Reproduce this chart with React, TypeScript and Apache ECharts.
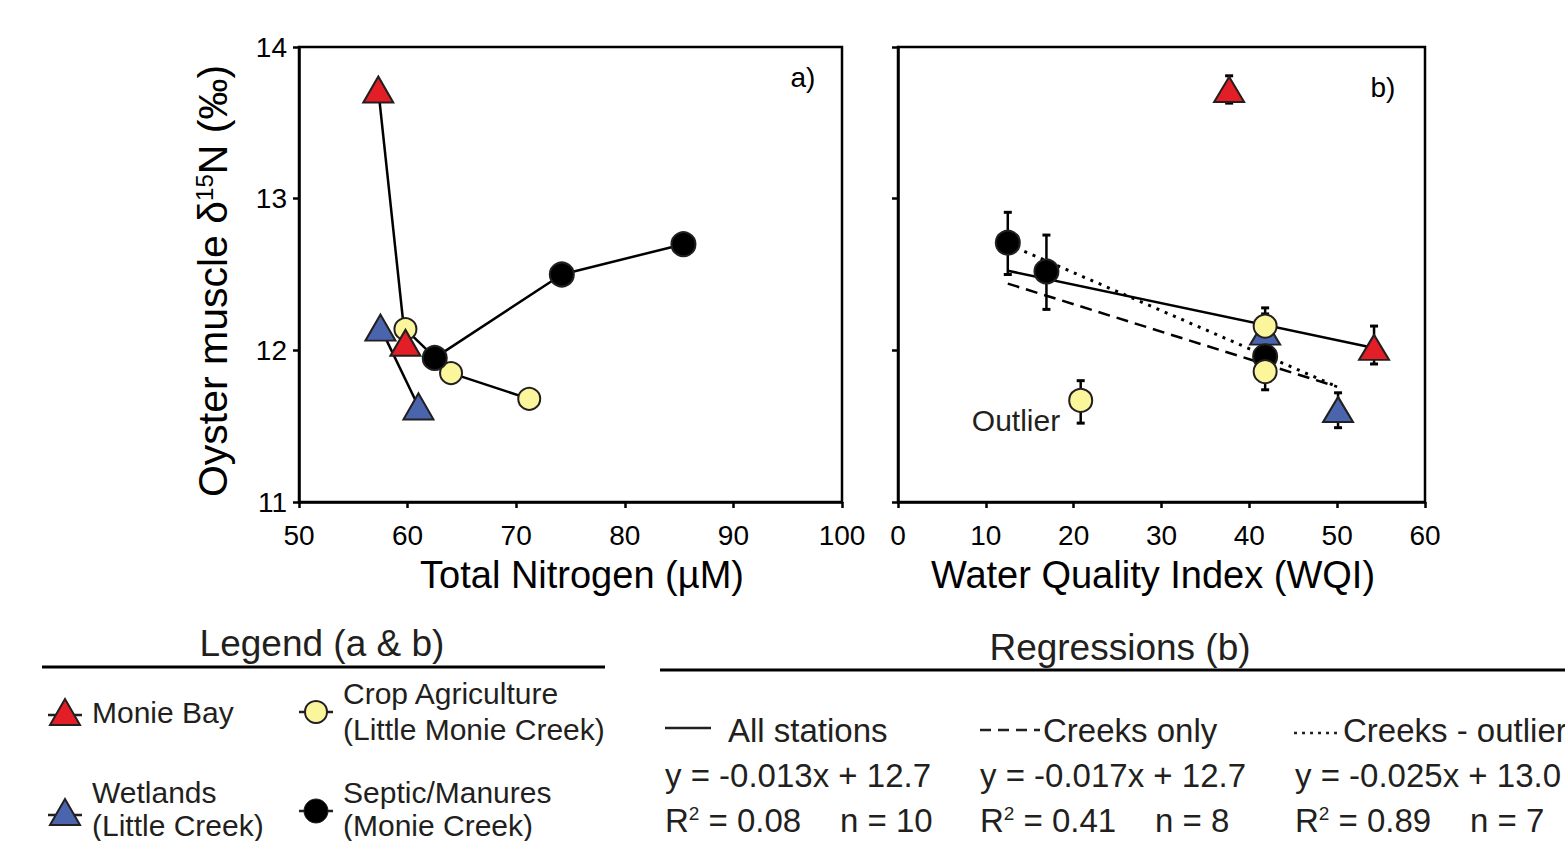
import React, { useEffect, useRef } from "react";
import * as echarts from "echarts";

const FONT = "'Liberation Sans', Arial, Helvetica, sans-serif";

// ---- Panel a: Total Nitrogen (µM) vs oyster muscle δ15N ----
const tnMonieBay = [
  [57.3, 13.72],
  [59.8, 12.05],
];
const tnWetlands = [
  [57.5, 12.15],
  [61.0, 11.63],
];
const tnCrop = [
  [59.8, 12.14],
  [64.0, 11.85],
  [71.2, 11.68],
];
const tnSeptic = [
  [62.5, 11.95],
  [74.2, 12.5],
  [85.4, 12.7],
];

// ---- Panel b: WQI vs δ15N  [wqi, mean, low, high] ----
const wqiMonieBay = [
  [37.7, 13.72, 13.63, 13.81],
  [54.2, 12.02, 11.91, 12.16],
];
const wqiWetlands = [
  [41.8, 12.12, 12.0, 12.24],
  [50.1, 11.61, 11.49, 11.72],
];
const wqiSeptic = [
  [12.5, 12.71, 12.5, 12.91],
  [16.9, 12.52, 12.27, 12.76],
  [41.8, 11.96, 11.85, 12.07],
];
const wqiCrop = [
  [41.8, 12.16, 12.04, 12.28],
  [41.8, 11.86, 11.74, 11.98],
  [20.8, 11.67, 11.52, 11.8],
];

// Regression lines (endpoints)
const regAllStations = [
  [12.5, 12.525],
  [54.2, 12.015],
];
const regCreeksOnly = [
  [12.5, 12.44],
  [50.0, 11.76],
];
const regCreeksNoOutlier = [
  [12.5, 12.7],
  [50.0, 11.76],
];

const xTicksA = { min: 50, max: 100, interval: 10 };
const xTicksB = { min: 0, max: 60, interval: 10 };
const yTicks = { min: 11, max: 14, interval: 1 };

const RED = "#e31e26";
const BLUE = "#4a64ae";
const YELLOW = "#fbf69c";
const BLACK = "#000000";
const EDGE = "#231f20";

const TRI = [30, 26];
const TRI_B = [30, 25];

export default function App() {
  const ref = useRef<HTMLDivElement>(null);

  useEffect(() => {
    document.body.style.margin = "0";
    const chart = echarts.init(ref.current!, undefined, { renderer: "svg" });

    const axisLineStyle = { color: "#000", width: 2.5 };
    const tickStyle = { show: true, length: 6, lineStyle: { color: "#000", width: 2.5 } };
    const labelStyle = { color: "#000", fontSize: 28, fontFamily: FONT };

    const errorBars = (data: number[][], xi: number, name: string) => ({
      type: "custom",
      name,
      xAxisIndex: xi,
      yAxisIndex: xi,
      z: 3,
      encode: { x: 0, y: 1 },
      data,
      renderItem: (params: any, api: any) => {
        const x = api.value(0);
        const lo = api.coord([x, api.value(2)]);
        const hi = api.coord([x, api.value(3)]);
        const w = 4;
        const st = { stroke: "#000", lineWidth: 2.5 };
        return {
          type: "group",
          children: [
            { type: "line", shape: { x1: lo[0], y1: lo[1], x2: hi[0], y2: hi[1] }, style: st },
            { type: "line", shape: { x1: lo[0] - w, y1: lo[1], x2: lo[0] + w, y2: lo[1] }, style: { stroke: "#000", lineWidth: 3 } },
            { type: "line", shape: { x1: hi[0] - w, y1: hi[1], x2: hi[0] + w, y2: hi[1] }, style: { stroke: "#000", lineWidth: 3 } },
          ],
        };
      },
    });

    const lineA = (data: number[][], symbol: string, size: any, color: string) => ({
      type: "line",
      xAxisIndex: 0,
      yAxisIndex: 0,
      data,
      symbol,
      symbolSize: size,
      showSymbol: true,
      z: 3,
      lineStyle: { color: "#000", width: 2.5 },
      itemStyle: { color, borderColor: EDGE, borderWidth: 2 },
    });

    const scatterB = (data: number[][], symbol: string, size: any, color: string) => ({
      type: "scatter",
      xAxisIndex: 1,
      yAxisIndex: 1,
      data: data.map((d) => [d[0], d[1]]),
      symbol,
      symbolSize: size,
      z: 4,
      itemStyle: { color, borderColor: EDGE, borderWidth: 2, opacity: 1 },
    });

    const regLine = (data: number[][], type: any, width = 2.5) => ({
      type: "line",
      xAxisIndex: 1,
      yAxisIndex: 1,
      data,
      symbol: "none",
      z: 2,
      lineStyle: { color: "#000", width, type },
    });

    const txt = (x: number, y: number, text: string, fontSize: number, align = "left", extra: any = {}) => ({
      type: "text",
      x,
      y,
      style: {
        text,
        fontSize,
        fontFamily: FONT,
        fill: "#000",
        align,
        verticalAlign: "middle",
        ...extra,
      },
    });

    const richR2 = (x: number, y: number, val: string) => ({
      type: "text",
      x,
      y,
      style: {
        text: `{r|R}{s|2}{r| = ${val}}`,
        fontFamily: FONT,
        fill: "#231f20",
        verticalAlign: "middle",
        rich: {
          r: { fontSize: 33, fontFamily: FONT, fill: "#231f20" },
          s: { fontSize: 19, fontFamily: FONT, fill: "#231f20", verticalAlign: "top" },
        },
      },
    });

    const REG = { fill: "#231f20" };

    const option: any = {
      animation: false,
      textStyle: { fontFamily: FONT },
      grid: [
        { left: 299, top: 47, width: 543, height: 455, show: true, borderColor: "#000", borderWidth: 2.5, backgroundColor: "transparent" },
        { left: 898, top: 47, width: 527, height: 455, show: true, borderColor: "#000", borderWidth: 2.5, backgroundColor: "transparent" },
      ],
      xAxis: [
        {
          type: "value",
          gridIndex: 0,
          ...xTicksA,
          axisLine: { show: true, lineStyle: axisLineStyle },
          axisTick: tickStyle,
          axisLabel: { ...labelStyle, margin: 19 },
          splitLine: { show: false },
        },
        {
          type: "value",
          gridIndex: 1,
          ...xTicksB,
          axisLine: { show: true, lineStyle: axisLineStyle },
          axisTick: tickStyle,
          axisLabel: { ...labelStyle, margin: 19 },
          splitLine: { show: false },
        },
      ],
      yAxis: [
        {
          type: "value",
          gridIndex: 0,
          ...yTicks,
          axisLine: { show: true, lineStyle: axisLineStyle },
          axisTick: tickStyle,
          axisLabel: { ...labelStyle, margin: 12 },
          splitLine: { show: false },
        },
        {
          type: "value",
          gridIndex: 1,
          ...yTicks,
          axisLine: { show: true, lineStyle: axisLineStyle },
          axisTick: tickStyle,
          axisLabel: { show: false },
          splitLine: { show: false },
        },
      ],
      series: [
        // panel a
        lineA(tnWetlands, "triangle", TRI, BLUE),
        lineA(tnCrop, "circle", 22, YELLOW),
        lineA(tnMonieBay, "triangle", TRI, RED),
        lineA(tnSeptic, "circle", 24, BLACK),
        // panel b regressions
        regLine(regAllStations, "solid"),
        regLine(regCreeksOnly, [12, 7]),
        regLine(regCreeksNoOutlier, [3, 6], 3),
        // panel b error bars
        errorBars(wqiWetlands, 1, "errW"),
        errorBars(wqiSeptic, 1, "errS"),
        errorBars(wqiCrop, 1, "errC"),
        errorBars(wqiMonieBay, 1, "errM"),
        // panel b points
        scatterB(wqiWetlands, "triangle", TRI_B, BLUE),
        scatterB(wqiSeptic, "circle", 24, BLACK),
        scatterB(wqiCrop, "circle", 23, YELLOW),
        scatterB(wqiMonieBay, "triangle", TRI_B, RED),
      ],
      graphic: [
        // axis titles
        {
          type: "text",
          x: 213,
          y: 281,
          rotation: Math.PI / 2,
          style: {
            text: "{a|Oyster muscle δ}{s|15}{a|N (‰)}",
            align: "center",
            verticalAlign: "middle",
            fill: "#000",
            rich: {
              a: { fontSize: 41, fontFamily: FONT, fill: "#000" },
              s: { fontSize: 24, fontFamily: FONT, fill: "#000", verticalAlign: "top" },
            },
          },
        },
        txt(582, 575, "Total Nitrogen (µM)", 38, "center"),
        txt(1153, 575, "Water Quality Index (WQI)", 38, "center"),

        txt(803, 77, "a)", 28, "center"),
        txt(1383, 87, "b)", 28, "center"),
        txt(1016, 420, "Outlier", 30, "center", { fill: "#231f20" }),

        // Legend (a & b)
        txt(322, 643, "Legend (a & b)", 37, "center", { fill: "#231f20" }),
        { type: "line", shape: { x1: 42, y1: 667, x2: 605, y2: 667 }, style: { stroke: "#000", lineWidth: 3 } },

        { type: "line", shape: { x1: 48, y1: 715, x2: 82, y2: 715 }, style: { stroke: EDGE, lineWidth: 2.5 } },
        { type: "polygon", shape: { points: [[50, 725], [80, 725], [65, 699]] }, style: { fill: RED, stroke: EDGE, lineWidth: 2 } },
        txt(92, 712, "Monie Bay", 30, "left", { fill: "#231f20" }),

        { type: "line", shape: { x1: 299, y1: 712, x2: 333, y2: 712 }, style: { stroke: EDGE, lineWidth: 2.5 } },
        { type: "circle", shape: { cx: 316, cy: 712, r: 11 }, style: { fill: YELLOW, stroke: EDGE, lineWidth: 2 } },
        txt(343, 693, "Crop Agriculture", 30, "left", { fill: "#231f20" }),
        txt(343, 729, "(Little Monie Creek)", 30, "left", { fill: "#231f20" }),

        { type: "line", shape: { x1: 48, y1: 815, x2: 82, y2: 815 }, style: { stroke: EDGE, lineWidth: 2.5 } },
        { type: "polygon", shape: { points: [[50, 825], [80, 825], [65, 799]] }, style: { fill: BLUE, stroke: EDGE, lineWidth: 2 } },
        txt(92, 792, "Wetlands", 30, "left", { fill: "#231f20" }),
        txt(92, 825, "(Little Creek)", 30, "left", { fill: "#231f20" }),

        { type: "line", shape: { x1: 299, y1: 811, x2: 333, y2: 811 }, style: { stroke: EDGE, lineWidth: 2.5 } },
        { type: "circle", shape: { cx: 316, cy: 811, r: 12 }, style: { fill: BLACK, stroke: EDGE, lineWidth: 1 } },
        txt(343, 792, "Septic/Manures", 30, "left", { fill: "#231f20" }),
        txt(343, 825, "(Monie Creek)", 30, "left", { fill: "#231f20" }),

        // Regressions (b)
        txt(1120, 647, "Regressions (b)", 37, "center", { fill: "#231f20" }),
        { type: "line", shape: { x1: 660, y1: 670, x2: 1565, y2: 670 }, style: { stroke: "#000", lineWidth: 3 } },

        { type: "line", shape: { x1: 665, y1: 728, x2: 711, y2: 728 }, style: { stroke: "#231f20", lineWidth: 2.5 } },
        txt(728, 730, "All stations", 33, "left", REG),
        txt(665, 775, "y = -0.013x + 12.7", 33, "left", REG),
        richR2(665, 820, "0.08"),
        txt(840, 820, "n = 10", 33, "left", REG),

        { type: "line", shape: { x1: 980, y1: 730, x2: 1040, y2: 730 }, style: { stroke: "#231f20", lineWidth: 2.5, lineDash: [11, 7] } },
        txt(1043, 730, "Creeks only", 33, "left", REG),
        txt(980, 775, "y = -0.017x + 12.7", 33, "left", REG),
        richR2(980, 820, "0.41"),
        txt(1155, 820, "n = 8", 33, "left", REG),

        { type: "line", shape: { x1: 1294, y1: 733, x2: 1340, y2: 733 }, style: { stroke: "#231f20", lineWidth: 2.5, lineDash: [3, 5] } },
        txt(1343, 730, "Creeks - outlier", 33, "left", REG),
        txt(1295, 775, "y = -0.025x + 13.0", 33, "left", REG),
        richR2(1295, 820, "0.89"),
        txt(1470, 820, "n = 7", 33, "left", REG),
      ],
    };

    chart.setOption(option);
    return () => chart.dispose();
  }, []);

  return <div ref={ref} style={{ width: 1565, height: 841 }} />;
}
